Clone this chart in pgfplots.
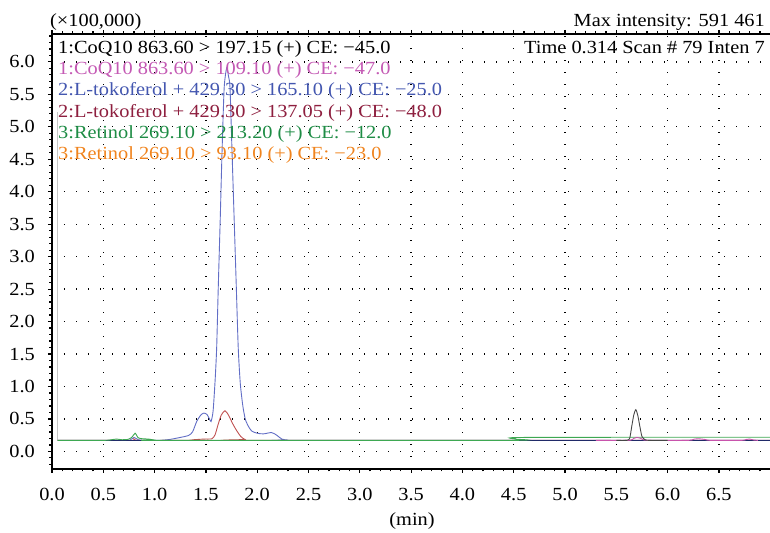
\documentclass[border=0pt]{standalone}
\usepackage{fontspec}
\setmainfont[FakeStretch=1.1]{Liberation Serif}
\usepackage{pgfplots}
\pgfplotsset{compat=1.18}
\newcommand\lbl{\fontsize{18.5bp}{22bp}\selectfont}
\definecolor{tblue}{RGB}{98,110,198}
\definecolor{tred}{RGB}{192,82,82}
\definecolor{tgreen}{RGB}{62,168,82}
\definecolor{tblack}{RGB}{70,70,70}
\definecolor{tpink}{RGB}{200,84,172}
\definecolor{tnavy}{RGB}{32,42,104}
\definecolor{lpink}{RGB}{196,90,180}
\definecolor{lblue}{RGB}{68,87,176}
\definecolor{lmaroon}{RGB}{142,31,63}
\definecolor{lgreen}{RGB}{30,140,69}
\definecolor{lorange}{RGB}{240,132,30}
\begin{document}
\begin{tikzpicture}[x=1bp,y=1bp]
\begin{axis}[
  at={(0,0)}, anchor=south west,
  scale only axis, width=722bp, height=435bp,
  xmin=0, xmax=7.037, ymin=-0.271, ymax=6.43,
  xtick={0,0.5,...,6.5}, ytick={0,0.5,...,6},
  minor xtick={0,0.1,...,7.0}, minor ytick={-0.2,-0.1,...,6.4},
  tick align=outside,
  major tick length=4bp, minor tick length=2.5bp,
  every tick/.style={black, line width=1.2bp},
  axis line style={line width=1.3bp},
  grid=major,
  major grid style={black, line width=1.3bp, dash pattern=on 1.3bp off 10.7bp},
  xticklabel style={font=\lbl, anchor=base, inner sep=0pt, yshift=-28bp},
  yticklabel style={font=\lbl, anchor=east, inner sep=0pt, xshift=-13bp},
  /pgf/number format/fixed, /pgf/number format/fixed zerofill,
  /pgf/number format/precision=1, /pgf/number format/assume math mode=true,
  clip=true,
]
\addplot[gray!45, line width=0.9bp] coordinates {(0.054,5.23) (0.054,0.17)};
\addplot[tblue, line width=0.9bp, smooth, tension=0.4] coordinates {
(0.054,0.17) (0.70,0.17) (0.76,0.175) (0.80,0.215) (0.84,0.18) (0.90,0.17) (1.05,0.17) (1.15,0.185) (1.25,0.215) (1.33,0.245) (1.37,0.30) (1.41,0.46) (1.45,0.56) (1.48,0.59) (1.51,0.57) (1.535,0.50) (1.55,0.46) (1.57,0.62) (1.59,1.1) (1.605,1.6) (1.62,2.5) (1.64,3.6) (1.657,4.6) (1.678,5.6) (1.703,5.91) (1.72,5.78) (1.735,5.6) (1.755,4.6) (1.775,3.6) (1.795,2.6) (1.815,1.6) (1.835,1.05) (1.86,0.7) (1.885,0.49) (1.92,0.37) (1.95,0.31) (2.0,0.28) (2.06,0.27) (2.14,0.29) (2.19,0.25) (2.24,0.19) (2.3,0.175) (2.4,0.17) (7.04,0.17)};
\addplot[tred, line width=0.9bp, smooth, tension=0.4] coordinates {
(0.054,0.17) (0.76,0.17) (0.80,0.19) (0.84,0.17) (1.30,0.17) (1.38,0.18) (1.48,0.19) (1.56,0.195) (1.59,0.26) (1.62,0.42) (1.65,0.56) (1.686,0.627) (1.72,0.56) (1.76,0.43) (1.80,0.32) (1.84,0.23) (1.88,0.185) (1.95,0.17) (7.04,0.17)};
\addplot[tnavy, line width=0.9bp] coordinates {(0.054,0.17) (1.05,0.17)};
\addplot[tnavy, line width=0.9bp] coordinates {(2.4,0.17) (7.04,0.17)};
\addplot[tgreen, line width=0.9bp, smooth, tension=0.4] coordinates {
(0.054,0.17) (0.50,0.17) (0.58,0.18) (0.63,0.19) (0.68,0.18) (0.74,0.185) (0.78,0.22) (0.81,0.28) (0.84,0.21) (0.88,0.195) (0.94,0.19) (1.0,0.175) (1.05,0.17) (4.45,0.17) (4.52,0.19) (4.6,0.215) (7.04,0.218)};
\addplot[tpink, line width=0.9bp, smooth, tension=0.4] coordinates {
(5.3,0.17) (5.62,0.17) (5.67,0.2) (5.70,0.215) (5.74,0.2) (5.8,0.17) (6.2,0.17) (6.26,0.19) (6.3,0.195) (6.36,0.185) (6.42,0.17) (6.72,0.17) (6.77,0.185) (6.8,0.19) (6.84,0.175) (6.88,0.17)};
\addplot[tblack, line width=0.9bp, smooth, tension=0.4] coordinates {
(5.50,0.17) (5.60,0.17) (5.63,0.2) (5.65,0.38) (5.67,0.56) (5.69,0.643) (5.71,0.55) (5.73,0.38) (5.75,0.23) (5.78,0.18) (5.82,0.17) (6.0,0.17)};
\end{axis}
\lbl
\node[anchor=base west, inner sep=0pt] at (-2,442) {(×100,000)};
\node[anchor=base east, inner sep=0pt] at (713,442) {Max intensity: 591 461};
\node[anchor=base east, inner sep=0pt] at (713,415) {Time 0.314 Scan \# 79 Inten 7};
\node[anchor=base west, inner sep=0pt, text=black] at (6,415.7) {1:CoQ10 863.60 > 197.15 (+) CE: −45.0};
\node[anchor=base west, inner sep=0pt, text=lpink] at (6,394.4) {1:CoQ10 863.60 > 109.10 (+) CE: −47.0};
\node[anchor=base west, inner sep=0pt, text=lblue] at (6,373.1) {2:L-tokoferol + 429.30 > 165.10 (+) CE: −25.0};
\node[anchor=base west, inner sep=0pt, text=lmaroon] at (6,351.8) {2:L-tokoferol + 429.30 > 137.05 (+) CE: −48.0};
\node[anchor=base west, inner sep=0pt, text=lgreen] at (6,330.5) {3:Retinol 269.10 > 213.20 (+) CE: −12.0};
\node[anchor=base west, inner sep=0pt, text=lorange] at (6,309.2) {3:Retinol 269.10 > 93.10 (+) CE: −23.0};
\node[anchor=base, inner sep=0pt] at (360,-57) {(min)};
\pgfresetboundingbox
\path[use as bounding box] (-52,-64) rectangle (718,469);
\end{tikzpicture}
\end{document}
